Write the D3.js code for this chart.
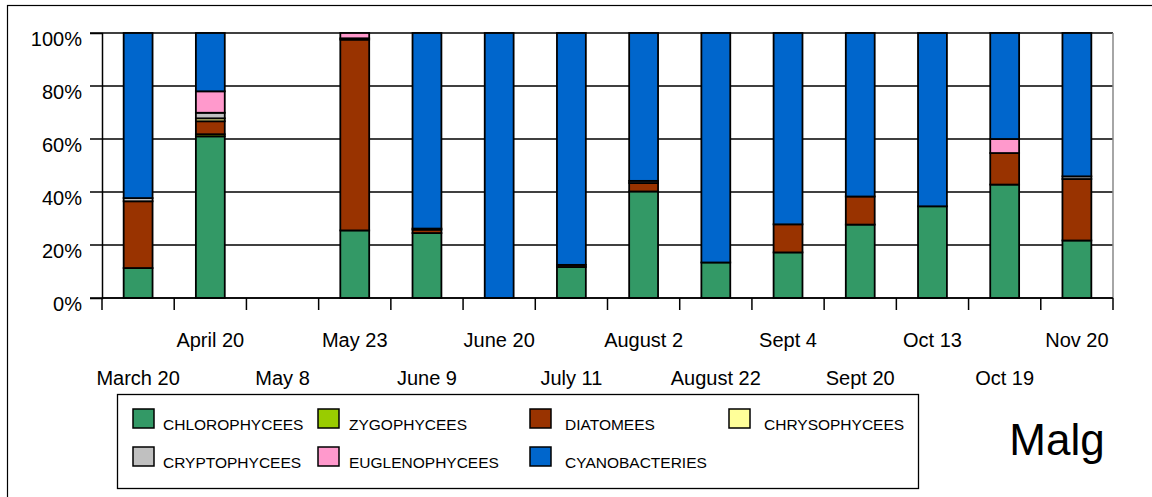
<!DOCTYPE html>
<html>
<head>
<meta charset="utf-8">
<script src="https://cdn.jsdelivr.net/npm/d3@7"></script>
<style>
  body { margin: 0; background: #fff; }
  svg { display: block; font-family: "Liberation Sans", Arial, sans-serif; }
</style>
</head>
<body>
<div id="chart"></div>
<script>
// sampling dates (May 8 has no data)
const dates = ["March 20", "April 20", "May 8", "May 23", "June 9", "June 20", "July 11",
  "August 2", "August 22", "Sept 4", "Sept 20", "Oct 13", "Oct 19", "Nov 20"];

const groups = ["CHLOROPHYCEES", "ZYGOPHYCEES", "DIATOMEES", "CHRYSOPHYCEES",
  "CRYPTOPHYCEES", "EUGLENOPHYCEES", "CYANOBACTERIES"];
const colors = ["#339966", "#99cc00", "#993300", "#ffff99", "#c0c0c0", "#ff99cc", "#0066cc"];

// percentages
const chlorophycees  = [11.3, 61.0, 0, 25.5, 24.5, 0, 11.7, 40.2, 13.4, 17.2, 27.7, 34.6, 42.8, 21.7];
const zygophycees    = [0,    0.8,  0, 0,    0,    0, 0,    0,    0,    0,    0,    0,    0,    0];
const diatomees      = [25.2, 4.9,  0, 72.0, 1.3,  0, 0.8,  3.2,  0,    10.6, 10.6, 0,    11.9, 23.2];
const chrysophycees  = [0,    1.1,  0, 0,    0,    0, 0,    0,    0,    0,    0,    0,    0,    0];
const cryptophycees  = [1.2,  2.1,  0, 0.5,  0.4,  0, 0,    0.8,  0,    0,    0,    0,    0,    1.0];
const euglenophycees = [0,    8.1,  0, 2.0,  0,    0, 0,    0,    0,    0,    0,    0,    5.3,  0];
const cyanobacteries = [62.3, 22.0, 0, 0,    73.8, 100, 87.5, 55.8, 86.6, 72.2, 61.7, 65.4, 40.0, 54.1];

const yTicks = [0, 20, 40, 60, 80, 100];

const series = [chlorophycees, zygophycees, diatomees, chrysophycees,
  cryptophycees, euglenophycees, cyanobacteries];

const rows = dates.map((d, i) => {
  const r = { date: d };
  groups.forEach((g, k) => { r[g] = series[k][i]; });
  return r;
});

const W = 1152, H = 497;
const svg = d3.select("#chart").append("svg")
  .attr("width", W).attr("height", H);

// outer frame
svg.append("rect")
  .attr("x", 7.5).attr("y", 5.5)
  .attr("width", W + 20).attr("height", H + 20)
  .attr("fill", "none").attr("stroke", "#000").attr("stroke-width", 1.2);

const x = d3.scaleBand().domain(dates).range([102, 1113]).padding(0);
const y = d3.scaleLinear().domain([0, 100]).range([298, 33]);
const color = d3.scaleOrdinal().domain(groups).range(colors);

// horizontal gridlines (with the small left ticks)
svg.append("g")
  .selectAll("line")
  .data(yTicks)
  .join("line")
  .attr("x1", 90).attr("x2", 1113)
  .attr("y1", d => y(d)).attr("y2", d => y(d))
  .attr("stroke", "#000").attr("stroke-width", 1.5);

// right border of plot
svg.append("line")
  .attr("x1", 1113).attr("x2", 1113).attr("y1", y(100)).attr("y2", y(0))
  .attr("stroke", "#888").attr("stroke-width", 1.5);

// y axis
const yAxis = svg.append("g")
  .attr("transform", "translate(102,0)")
  .call(d3.axisLeft(y).tickValues(yTicks).tickSize(12).tickFormat(d => d + "%"));
yAxis.select(".domain").attr("stroke", "#000").attr("stroke-width", 1.5);
yAxis.selectAll(".tick line").remove();
yAxis.selectAll(".tick text")
  .attr("x", -20).attr("dy", 12)
  .attr("font-size", 20).attr("font-family", "Liberation Sans, Arial, sans-serif")
  .attr("fill", "#000");

// stacked bars
const stack = d3.stack().keys(groups);
const stacked = stack(rows);
const bw = x.bandwidth() * 0.4;

svg.append("g")
  .selectAll("g")
  .data(stacked)
  .join("g")
  .attr("fill", d => color(d.key))
  .selectAll("rect")
  .data(d => d.filter(p => p[1] - p[0] > 0))
  .join("rect")
  .attr("x", d => x(d.data.date) + (x.bandwidth() - bw) / 2)
  .attr("y", d => y(d[1]))
  .attr("width", bw)
  .attr("height", d => y(d[0]) - y(d[1]))
  .attr("stroke", "#000").attr("stroke-width", 1.8);

// x axis: ticks at band edges, labels alternate on two rows
const edges = dates.map(d => x(d)).concat([x.range()[1]]);
svg.append("g")
  .selectAll("line")
  .data(edges)
  .join("line")
  .attr("x1", d => d).attr("x2", d => d)
  .attr("y1", y(0)).attr("y2", y(0) + 12)
  .attr("stroke", "#000").attr("stroke-width", 1.5);

svg.append("line")
  .attr("x1", 102).attr("x2", 1113).attr("y1", y(0)).attr("y2", y(0))
  .attr("stroke", "#000").attr("stroke-width", 1.5);

svg.append("g")
  .selectAll("text")
  .data(dates)
  .join("text")
  .attr("x", d => x(d) + x.bandwidth() / 2)
  .attr("y", (d, i) => i % 2 ? 347 : 385)
  .attr("text-anchor", "middle")
  .attr("font-size", 20)
  .text(d => d);

// legend
const legend = svg.append("g");
legend.append("rect")
  .attr("x", 117.5).attr("y", 394.5).attr("width", 801).attr("height", 94)
  .attr("fill", "#fff").attr("stroke", "#000").attr("stroke-width", 1.3);

const colX = [133, 318, 530, 729];
const textX = [163, 349, 565, 764];
const rowY = [409, 447];
const items = legend.selectAll("g.item")
  .data(groups)
  .join("g")
  .attr("class", "item")
  .attr("transform", (d, i) => `translate(0,${rowY[Math.floor(i / 4)]})`);
items.append("rect")
  .attr("x", (d, i) => colX[i % 4])
  .attr("width", 21).attr("height", 19)
  .attr("fill", d => color(d))
  .attr("stroke", "#000").attr("stroke-width", 1.5);
items.append("text")
  .attr("x", (d, i) => textX[i % 4])
  .attr("y", 21)
  .attr("font-size", 15.5)
  .text(d => d);

// station name
svg.append("text")
  .attr("x", 1057).attr("y", 455)
  .attr("text-anchor", "middle")
  .attr("font-size", 44)
  .text("Malg");
</script>
</body>
</html>
